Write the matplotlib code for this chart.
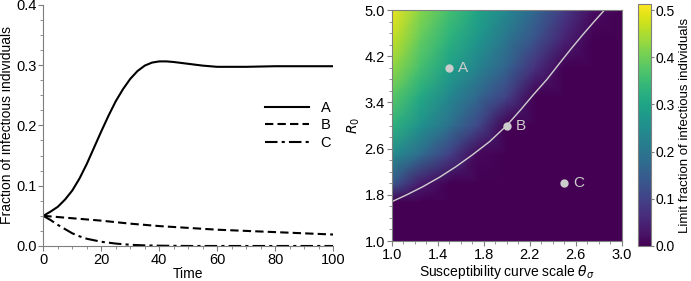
import numpy as np
import matplotlib
matplotlib.use('Agg')
import matplotlib.pyplot as plt
from matplotlib.ticker import MultipleLocator

# --- left panel: time series ---
time_a = [0, 2.5, 5, 7.5, 10, 12.5, 15, 17.5, 20, 22.5, 25, 27.5, 30, 32.5, 35,
          37.5, 40, 42.5, 45, 50, 55, 60, 65, 70, 80, 90, 100]
frac_a = [0.050, 0.057, 0.065, 0.077, 0.092, 0.112, 0.136, 0.163, 0.190, 0.216,
          0.240, 0.260, 0.277, 0.290, 0.299, 0.304, 0.306, 0.306, 0.305, 0.302,
          0.299, 0.297, 0.297, 0.297, 0.298, 0.298, 0.298]

time_b = [0, 10, 20, 30, 40, 50, 60, 70, 80, 90, 100]
frac_b = [0.050, 0.046, 0.042, 0.037, 0.033, 0.030, 0.027, 0.025, 0.023, 0.021, 0.019]

time_c = [0, 2.5, 5, 7.5, 10, 12.5, 15, 20, 25, 30, 35, 40, 50, 60, 80, 100]
frac_c = [0.050, 0.043, 0.035, 0.028, 0.021, 0.016, 0.012, 0.007, 0.004, 0.002,
          0.001, 0.0005, 0.0, 0.0, 0.0, 0.0]

# --- right panel: limit fraction field (coarse readout) ---
theta_grid = [1.0, 1.25, 1.5, 1.75, 2.0, 2.25, 2.5, 2.75, 3.0]
r0_grid = [1.0, 1.68, 2.0, 2.5, 3.0, 3.5, 4.0, 4.5, 5.0]
limit_frac = [
    [0.00, 0.00, 0.00, 0.00, 0.00, 0.00, 0.00, 0.00, 0.00],
    [0.00, 0.00, 0.00, 0.00, 0.00, 0.00, 0.00, 0.00, 0.00],
    [0.14, 0.04, 0.00, 0.00, 0.00, 0.00, 0.00, 0.00, 0.00],
    [0.25, 0.18, 0.10, 0.01, 0.00, 0.00, 0.00, 0.00, 0.00],
    [0.33, 0.26, 0.19, 0.11, 0.00, 0.00, 0.00, 0.00, 0.00],
    [0.38, 0.31, 0.24, 0.17, 0.10, 0.00, 0.00, 0.00, 0.00],
    [0.43, 0.36, 0.29, 0.23, 0.16, 0.07, 0.00, 0.00, 0.00],
    [0.47, 0.39, 0.33, 0.27, 0.20, 0.13, 0.05, 0.00, 0.00],
    [0.50, 0.42, 0.36, 0.30, 0.24, 0.17, 0.09, 0.02, 0.00],
]

# threshold curve
curve_theta = [1.0, 1.13, 1.27, 1.42, 1.56, 1.70, 1.85, 2.0, 2.12, 2.23, 2.35,
               2.46, 2.56, 2.66, 2.76, 2.85]
curve_r0 = [1.68, 1.80, 1.94, 2.11, 2.29, 2.49, 2.72, 3.0, 3.27, 3.53, 3.80,
            4.08, 4.33, 4.57, 4.80, 5.0]

point_names = ['A', 'B', 'C']
point_theta = [1.5, 2.0, 2.5]
point_r0 = [4.0, 3.0, 2.0]

theta_ticks = [1.0, 1.4, 1.8, 2.2, 2.6, 3.0]
r0_ticks = [1.0, 1.8, 2.6, 3.4, 4.2, 5.0]
cbar_ticks = [0.0, 0.1, 0.2, 0.3, 0.4, 0.5]

plt.rcParams['font.family'] = ['Liberation Sans', 'DejaVu Sans']
plt.rcParams['font.size'] = 8

fig = plt.figure(figsize=(6.91, 2.81), dpi=100)
spine_gray = '#7f7f7f'

# left panel
ax1 = fig.add_axes([0.0627, 0.1246, 0.4193, 0.8587])
ax1.plot(time_a, frac_a, color='black', lw=1.5, ls='-', label='A')
ax1.plot(time_b, frac_b, color='black', lw=1.5, ls=(0, (4, 2)), label='B')
ax1.plot(time_c, frac_c, color='black', lw=1.5, ls=(0, (6, 2, 1.5, 2)), label='C')
ax1.set_xlim(0, 100)
ax1.set_ylim(0, 0.4)
ax1.xaxis.set_major_locator(MultipleLocator(20))
ax1.xaxis.set_minor_locator(MultipleLocator(5))
ax1.yaxis.set_major_locator(MultipleLocator(0.1))
ax1.yaxis.set_minor_locator(MultipleLocator(0.025))
ax1.spines['top'].set_visible(False)
ax1.spines['right'].set_visible(False)
for s in ['left', 'bottom']:
    ax1.spines[s].set_color(spine_gray)
ax1.tick_params(which='major', length=3.5, color=spine_gray, labelsize=10.5, pad=1.5)
ax1.tick_params(which='minor', length=2, color=spine_gray)
ax1.set_xlabel('Time', fontsize=10, labelpad=0)
ax1.set_ylabel('Fraction of infectious individuals', fontsize=10, labelpad=1)
ax1.legend(loc='center left', bbox_to_anchor=(0.72, 0.5), frameon=False,
           handlelength=3.0, fontsize=10.5, labelspacing=0.25, handletextpad=0.8)

# right panel
ax2 = fig.add_axes([0.5669, 0.1423, 0.3329, 0.8221])
tt, rr = np.meshgrid(theta_grid, r0_grid)
mesh = ax2.pcolormesh(tt, rr, np.array(limit_frac), cmap='viridis',
                      vmin=0, vmax=0.513, shading='gouraud', rasterized=True)
ax2.plot(curve_theta, curve_r0, color='#d0d0d0', lw=1.0)
ax2.plot(point_theta, point_r0, 'o', color='#cccccc', ms=6, mec='none')
for name, th, r0 in zip(point_names, point_theta, point_r0):
    ax2.text(th + 0.08, r0, name, color='#cccccc', fontsize=11, va='center', ha='left')
ax2.set_xlim(1.0, 3.0)
ax2.set_ylim(1.0, 5.0)
ax2.set_xticks(theta_ticks)
ax2.set_yticks(r0_ticks)
ax2.xaxis.set_minor_locator(MultipleLocator(0.1))
ax2.yaxis.set_minor_locator(MultipleLocator(0.2))
for s in ax2.spines.values():
    s.set_color(spine_gray)
ax2.tick_params(which='major', length=3.5, color=spine_gray, labelsize=10.5, pad=1.5)
ax2.tick_params(which='minor', length=2, color=spine_gray)
ax2.set_xlabel(r'Susceptibility curve scale $\theta_\sigma$', fontsize=10, labelpad=1)
ax2.set_ylabel(r'$R_0$', fontsize=10, labelpad=2)

cax = fig.add_axes([0.9229, 0.1246, 0.0193, 0.8612])
cb = fig.colorbar(mesh, cax=cax)
cb.set_ticks(cbar_ticks)
cb.outline.set_edgecolor(spine_gray)
cax.tick_params(length=2.5, color=spine_gray, labelsize=10, pad=0.8)
cb.set_label('Limit fraction of infectious individuals', fontsize=9.5)
cax.yaxis.label.set_verticalalignment('center')
cax.yaxis.set_label_coords(3.55, 0.5)

fig.savefig('out.png', dpi=100)
